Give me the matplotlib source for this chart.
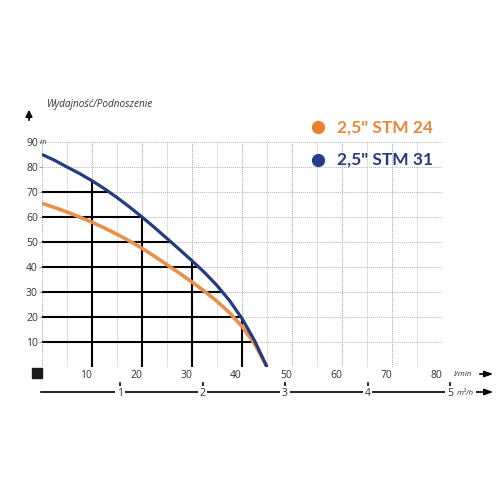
import numpy as np
import matplotlib
matplotlib.use("Agg")
import matplotlib.pyplot as plt
from matplotlib.patches import FancyArrowPatch

# data (flow l/min, head m)
flow = [0, 2.5, 5, 7.5, 10, 12.5, 15, 17.5, 20, 22.5, 25, 27.5, 30, 32.5, 35, 37.5, 40, 42.5, 45]
head_31 = [85, 82.7, 80, 77.4, 74.5, 71.3, 67.8, 64, 60, 55.8, 51.4, 47, 42.5, 37.8, 32.6, 26.6, 19.4, 10.6, 0]
head_24 = [65.5, 63.8, 62, 60, 57.9, 55.6, 53.1, 50.4, 47.5, 44.3, 40.9, 37.5, 34, 30.3, 26.3, 21.7, 16.2, 9.3, 0]

x_ticks = [10, 20, 30, 40, 50, 60, 70, 80]
y_ticks = [10, 20, 30, 40, 50, 60, 70, 80, 90]
m3h_ticks = [1, 2, 3, 4, 5]
lmin_per_m3h = 16.5

blue = "#263a7d"
orange = "#e8904e"
orange_txt = "#e8883c"
txt = "#333333"

plt.rcParams['font.family'] = ['Open Sans', 'DejaVu Sans']

fig = plt.figure(figsize=(5, 5), dpi=100)
ax = fig.add_axes([42/500, 1-367/500, 400/500, 225/500])
ax.set_xlim(0, 80)
ax.set_ylim(0, 90)
for s in ax.spines.values():
    s.set_visible(False)

# background grid
for x in range(5, 80, 10):
    ax.axvline(x, color="#e0e0e0", lw=0.7, zorder=0)
for x in range(0, 81, 10):
    ax.axvline(x, color="#aaaaaa", lw=0.8, ls=(0, (1, 1)), zorder=0)
for y in y_ticks:
    ax.axhline(y, color="#b5b5b5", lw=0.7, ls=(0, (1, 1)), zorder=0)

# black grid under the blue curve
fr = flow[::-1]
hr = head_31[::-1]
for y in range(10, 80, 10):
    xe = np.interp(y, hr, fr)
    ax.plot([0, xe], [y, y], color="black", lw=1.5, zorder=1)
for x in range(10, 50, 10):
    ye = np.interp(x, flow, head_31)
    ax.plot([x, x], [0, ye], color="black", lw=1.5, zorder=1)

ax.plot(flow, head_24, color=orange, lw=2.6, solid_capstyle="butt", solid_joinstyle="round", zorder=3)
ax.plot(flow, head_31, color=blue, lw=2.3, solid_capstyle="butt", solid_joinstyle="round", zorder=4)

ax.set_xticks(x_ticks)
ax.set_yticks(y_ticks)
ax.tick_params(axis="x", length=0, pad=2, labelsize=7.5, labelcolor=txt)
ax.tick_params(axis="y", length=2, width=0.6, color="#888888", pad=1, labelsize=7.5, labelcolor=txt)
for lab in ax.get_xticklabels():
    lab.set_ha("right")

# units and title
ax.text(-0.5, 90, "m", style="italic", fontsize=5.5, color=txt, va="center", ha="left", clip_on=False)
fig.text(47/500, 1-104/500, "Wydajność/Podnoszenie", style="italic", fontsize=7.2, color=txt, va="center")
fig.add_artist(FancyArrowPatch((29/500, 1-123/500), (29/500, 1-107/500), transform=fig.transFigure,
                               arrowstyle="-|>,head_length=4,head_width=2", color="black", lw=1.2))
ax.plot([-1], [-2.4], "s", color="#1a1a1a", ms=7.2, clip_on=False)

# flow axis in l/min
ax.text(82.4, -3.0, "l/min", style="italic", fontsize=5.8, color=txt, va="center", clip_on=False)
fig.add_artist(FancyArrowPatch((477/500, 1-374/500), (496/500, 1-374/500), transform=fig.transFigure,
                               arrowstyle="-|>,head_length=5,head_width=1.8", color="black", lw=1.2))

# secondary axis in m3/h
fig.add_artist(FancyArrowPatch((38/500, 1-392/500), (496/500, 1-392/500), transform=fig.transFigure,
                               arrowstyle="-|>,head_length=5,head_width=1.8", color="black", lw=1.2,
                               zorder=0))
for k in m3h_ticks:
    xk = k * lmin_per_m3h - 0.9
    ax.plot([xk, xk], [-6.2, -7.8], color="black", lw=1.2, clip_on=False)
    ax.text(xk, -10.4, str(k), fontsize=7.5, color=txt, ha="center", va="center", clip_on=False,
            bbox=dict(facecolor="white", edgecolor="none", pad=1.2), zorder=5)
ax.text(5 * lmin_per_m3h + 0.5, -10.6, "m³/h", style="italic", fontsize=5.8, color=txt,
        va="center", clip_on=False, bbox=dict(facecolor="white", edgecolor="none", pad=1.6), zorder=5)

# legend
lx = 318/500
fig.add_artist(plt.Line2D([lx], [1-127/500], marker="o", ms=8.5, color="#ec802e", transform=fig.transFigure))
fig.add_artist(plt.Line2D([lx], [1-160/500], marker="o", ms=8.5, color="#213d8c", transform=fig.transFigure))
fig.text(337/500, 1-128/500, "2,5\" STM 24", family=["Lato", "DejaVu Sans"], weight="bold",
         fontsize=12.5, color=orange_txt, va="center")
fig.text(337/500, 1-160/500, "2,5\" STM 31", family=["Lato", "DejaVu Sans"], weight="bold",
         fontsize=12.5, color="#243c80", va="center")

fig.savefig("out.png", dpi=100, facecolor="white")
